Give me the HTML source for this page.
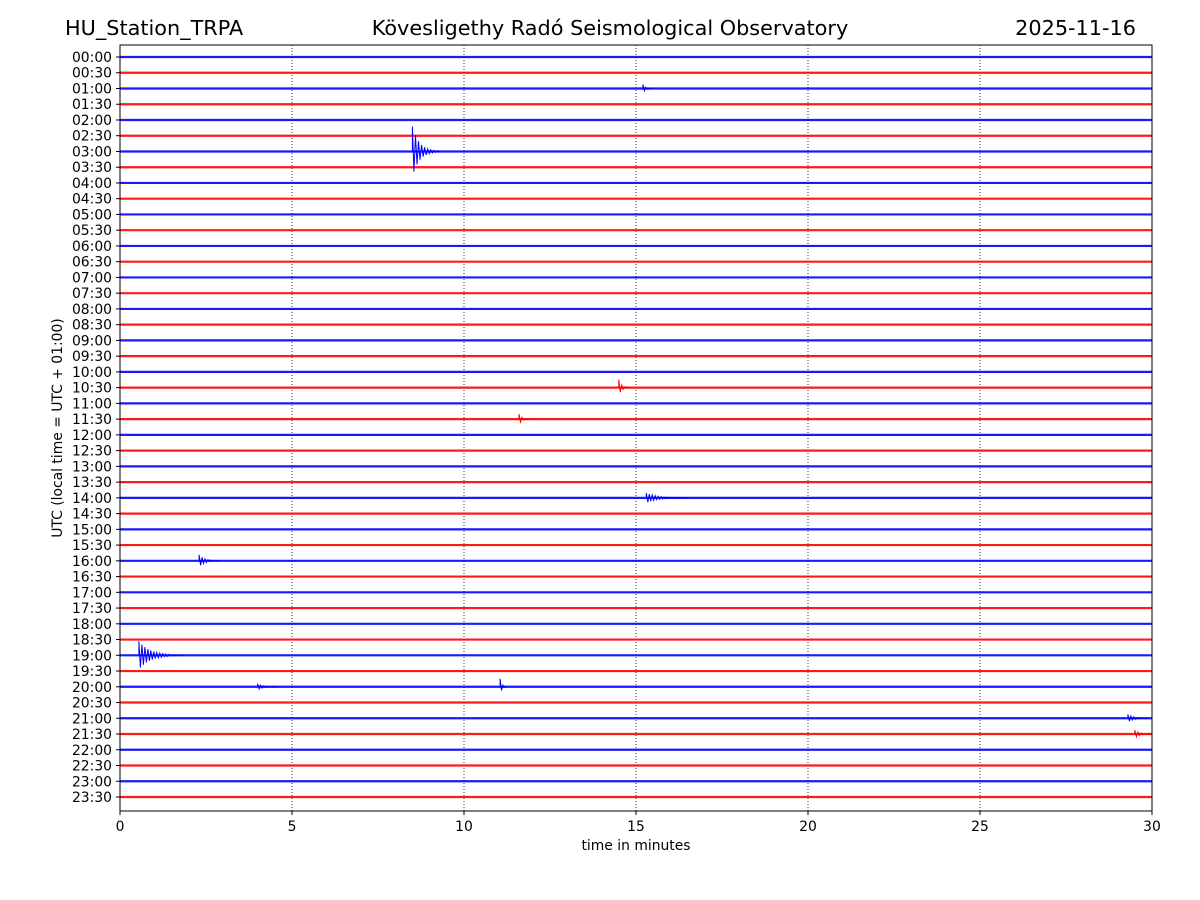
<!DOCTYPE html>
<html><head><meta charset="utf-8">
<style>
body{margin:0;background:#fff;}
svg{display:block;font-family:"DejaVu Sans","Liberation Sans",sans-serif;}
</style></head>
<body>
<svg id="chart" width="1200" height="900" viewBox="0 0 1200 900" xmlns="http://www.w3.org/2000/svg">
<rect width="1200" height="900" fill="#fff"/>
<text x="65" y="35" font-size="20.8">HU_Station_TRPA</text>
<text x="610" y="35" font-size="20.8" text-anchor="middle">Kövesligethy Radó Seismological Observatory</text>
<text x="1136" y="35" font-size="20.8" text-anchor="end">2025-11-16</text>
<g id="grid"></g>
<g id="traces"></g>
<g id="events"></g>
<rect x="120" y="45" width="1032" height="766" fill="none" stroke="#000" stroke-width="1"/>
<g id="axes"></g>
<text x="636" y="850" font-size="13.9" text-anchor="middle">time in minutes</text>
<text transform="translate(62,428) rotate(-90)" font-size="13.9" text-anchor="middle">UTC (local time = UTC + 01:00)</text>
</svg>
<script>
const rowLabels = [];
for (let h = 0; h < 24; h++) { const hh = String(h).padStart(2,'0'); rowLabels.push(hh+':00', hh+':30'); }
const xTicks = [0,5,10,15,20,25,30];
const gridMinutes = [5,10,15,20,25];
// events: row index, minute, amplitude (px), duration (min)
const eventRows = [2, 6, 21, 23, 28, 32, 38, 40, 40, 42, 43];
const eventMinutes = [15.2, 8.5, 14.5, 11.6, 15.3, 2.3, 0.55, 11.05, 4.0, 29.3, 29.5];
const eventAmps = [4, 25, 8, 5, 5, 6, 14, 8, 3, 4, 4];
const eventDurations = [0.3, 0.8, 0.3, 0.3, 1.2, 0.6, 1.3, 0.2, 0.6, 0.6, 0.5];

const NS = 'http://www.w3.org/2000/svg';
const x0 = 120, x1 = 1152, y0 = 57, y1 = 797;
const xs = m => x0 + (m/30)*(x1-x0);
const ys = i => y0 + i*(y1-y0)/(rowLabels.length-1);
const mk = (tag, attrs, parent) => { const e = document.createElementNS(NS, tag); for (const k in attrs) e.setAttribute(k, attrs[k]); parent.appendChild(e); return e; };
const grid = document.getElementById('grid'), traces = document.getElementById('traces'), events = document.getElementById('events'), axes = document.getElementById('axes');

gridMinutes.forEach(m => {
  const l = mk('line', {x1: xs(m), x2: xs(m), y1: 45, y2: 811, stroke: '#000', 'stroke-width': 0.8, 'stroke-dasharray': '1,2'}, grid);
  
  
});

rowLabels.forEach((lab, i) => {
  const col = i % 2 === 0 ? '#0000ff' : '#ff0000';
  const t = mk('line', {x1: xs(0), x2: xs(30), y1: ys(i), y2: ys(i), stroke: col, 'stroke-width': 2.2, 'stroke-opacity': 0.9}, traces);
  
  
  const tk = mk('line', {x1: 116, x2: 120, y1: ys(i), y2: ys(i), stroke: '#000'}, axes);
  
  
  const tx = mk('text', {x: 112, y: ys(i)+5, 'font-size': 13.9, 'text-anchor': 'end'}, axes);
  tx.textContent = lab;
  
  
});

xTicks.forEach(m => {
  const tk = mk('line', {x1: xs(m), x2: xs(m), y1: 811, y2: 815, stroke: '#000'}, axes);
  
  
  const tx = mk('text', {x: xs(m), y: 831, 'font-size': 13.9, 'text-anchor': 'middle'}, axes);
  tx.textContent = m;
  
  
});

eventRows.forEach((r, k) => {
  const col = r % 2 === 0 ? '#0000ff' : '#ff0000';
  const start = xs(eventMinutes[k]), w = xs(eventMinutes[k]+eventDurations[k]) - start, y = ys(r), A = eventAmps[k];
  let d = 'M' + start + ' ' + y;
  const n = Math.max(4, Math.round(w/1.5));
  for (let j = 0; j <= n; j++) {
    const f = j/n, amp = A*Math.exp(-4*f)*(j%2 ? 1 : -1);
    d += ' L' + (start + f*w).toFixed(1) + ' ' + (y+amp).toFixed(1);
  }
  const p = mk('path', {d: d, fill: 'none', stroke: col, 'stroke-width': 1}, events);
  
  
});
</script>
</body></html>
